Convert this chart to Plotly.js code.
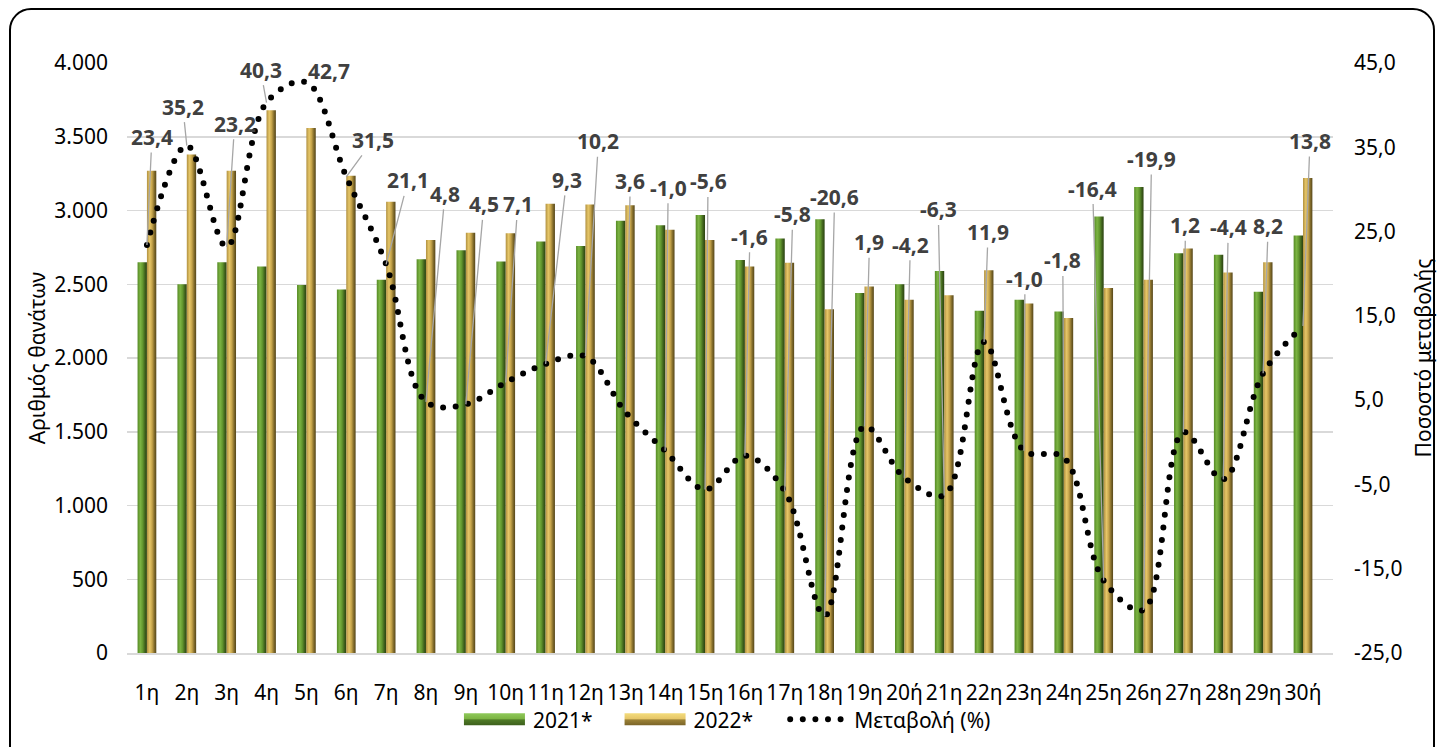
<!DOCTYPE html>
<html>
<head>
<meta charset="utf-8">
<script src="https://cdn.plot.ly/plotly-3.0.1.min.js"></script>
<style>
  html, body { margin: 0; padding: 0; background: #fff; overflow: hidden; }
  #chart { width: 1438px; height: 747px; }
  #frame { position: absolute; left: 9px; top: 8px; width: 1426px; height: 770px;
           border: 2px solid #000; border-radius: 22px; pointer-events: none; box-sizing: border-box; }
  .js-line { stroke-linecap: round !important; stroke-dasharray: 0 12.6 !important; }
</style>
</head>
<body>
<div id="chart"></div>
<div id="frame"></div>
<script>
// ---- data ----
const weeks = ['1η','2η','3η','4η','5η','6η','7η','8η','9η','10η','11η','12η','13η','14η','15η',
               '16η','17η','18η','19η','20ή','21η','22η','23η','24η','25η','26η','27η','28η','29η','30ή'];
const deaths2021 = [2650,2500,2650,2620,2495,2465,2530,2670,2730,2655,2790,2760,2930,2900,2970,
                    2665,2810,2940,2440,2500,2590,2320,2395,2315,2960,3160,2710,2700,2450,2830];
const deaths2022 = [3270,3380,3270,3680,3560,3235,3060,2800,2850,2845,3045,3040,3035,2870,2800,
                    2620,2645,2330,2485,2395,2425,2595,2370,2272,2475,2530,2742,2580,2650,3220];
const changePct = [23.4,35.2,23.2,40.3,42.7,31.5,21.1,4.8,4.5,7.1,9.3,10.2,3.6,-1.0,-5.6,
                   -1.6,-5.8,-20.6,1.9,-4.2,-6.3,11.9,-1.0,-1.8,-16.4,-19.9,1.2,-4.4,8.2,13.8];
const pctTicks = [-25, -15, -5, 5, 15, 25, 35, 45];
const pctTickLabels = ['-25,0', '-15,0', '-5,0', '5,0', '15,0', '25,0', '35,0', '45,0'];

// label placement offsets in pixels (layout only)
const labelDX = [5,-4,8,-6,23,27,22,19,18,12,21,13,5,3,3,5,8,10,5,6,-6,4,1,-1,-11,8,2,5,5,7];
const labelDY = [-108,-39,-123,-33,-11,-37,-84,-208,-200,-178,-184,-215,-231,-263,-308,
                 -219,-277,-419,-184,-233,-286,-110,-172,-197,-392,-451,-207,-252,-147,-185];

const FONT = 'Noto Sans, Open Sans, DejaVu Sans, sans-serif';
const FS = 21;

const traces = [
  { type: 'bar', name: '2021*', x: weeks, y: deaths2021, yaxis: 'y',
    marker: { color: '#5f8f2c', line: { width: 0 } }, hoverinfo: 'x+y' },
  { type: 'bar', name: '2022*', x: weeks, y: deaths2022, yaxis: 'y',
    marker: { color: '#c6a347', line: { width: 0 } }, hoverinfo: 'x+y' },
  { type: 'scatter', mode: 'lines', name: 'Μεταβολή (%)', x: weeks, y: changePct, yaxis: 'y2',
    line: { color: '#000', width: 6, shape: 'spline', smoothing: 1, dash: 'dot' }, hoverinfo: 'x+y' }
];

const annotations = changePct.map((v, i) => ({
  x: weeks[i], y: v, xref: 'x', yref: 'y2',
  text: v.toFixed(1).replace('.', ','),
  showarrow: true, arrowhead: 0, arrowwidth: 1.3, arrowcolor: '#a6a6a6', standoff: 0,
  ax: labelDX[i], ay: labelDY[i],
  font: { family: FONT, size: FS, color: '#404040', weight: 'bold' }
}));

const layout = {
  width: 1438, height: 747,
  margin: { l: 127, r: 105, t: 63, b: 94, autoexpand: false },
  paper_bgcolor: '#fff', plot_bgcolor: '#fff',
  separators: ',.',
  font: { family: FONT, size: FS, color: '#000' },
  barmode: 'group', bargap: 0.53, bargroupgap: 0,
  showlegend: true,
  legend: { orientation: 'h', x: 0.257, xanchor: 'left', y: -0.113, yanchor: 'middle',
            bgcolor: 'rgba(0,0,0,0)',
            font: { family: FONT, size: FS, color: '#000' }, itemwidth: 86, traceorder: 'normal' },
  xaxis: { type: 'category', showgrid: false, showline: true, linecolor: '#d9d9d9', linewidth: 2,
           ticks: '', ticklabelstandoff: 20, tickfont: { family: FONT, size: FS }, fixedrange: true,
           automargin: false },
  yaxis: { range: [0, 4000], dtick: 500, tickformat: ',', showgrid: true, gridcolor: '#d9d9d9', gridwidth: 1.5,
           zeroline: false, showline: false, ticks: '', ticklabelstandoff: 18, automargin: false,
           tickfont: { family: FONT, size: FS },
           title: { text: 'Αριθμός θανάτων', font: { family: FONT, size: FS }, standoff: 2 } },
  yaxis2: { range: [-25, 45], tickmode: 'array', tickvals: pctTicks, ticktext: pctTickLabels,
            overlaying: 'y', side: 'right', automargin: false,
            showgrid: false, zeroline: false, showline: false, ticks: '', ticklabelstandoff: 20,
            tickfont: { family: FONT, size: FS },
            title: { text: 'Ποσοστό μεταβολής', font: { family: FONT, size: FS }, standoff: 14 } },
  annotations: annotations
};

function decorate(gd) {
  const svg = gd.querySelector('svg.main-svg');
  const ns = 'http://www.w3.org/2000/svg';
  let defs = svg.querySelector('defs');
  if (!defs) { defs = document.createElementNS(ns, 'defs'); svg.insertBefore(defs, svg.firstChild); }
  const grads = {
    gGreen: [['0%', '#568a25'], ['30%', '#7cb443'], ['55%', '#62972e'], ['80%', '#3f611c'], ['100%', '#2b4212']],
    gGold:  [['0%', '#b09040'], ['30%', '#e6c668'], ['55%', '#c6a44a'], ['80%', '#806a2a'], ['100%', '#55461a']],
    gGreenL: [['0%', '#8fc95a'], ['45%', '#7cb443'], ['55%', '#4e7a26'], ['100%', '#3d5f1c']],
    gGoldL:  [['0%', '#f3dc7c'], ['45%', '#e6c668'], ['55%', '#9c8236'], ['100%', '#7a6428']]
  };
  Object.keys(grads).forEach(id => {
    const lg = document.createElementNS(ns, 'linearGradient');
    lg.setAttribute('id', id);
    const vertical = id.endsWith('L');
    lg.setAttribute('x1', '0'); lg.setAttribute('x2', vertical ? '0' : '1');
    lg.setAttribute('y1', '0'); lg.setAttribute('y2', vertical ? '1' : '0');
    grads[id].forEach(([o, c]) => {
      const s = document.createElementNS(ns, 'stop');
      s.setAttribute('offset', o); s.setAttribute('stop-color', c); lg.appendChild(s);
    });
    defs.appendChild(lg);
  });
  const ids = ['gGreen', 'gGold'];
  gd.querySelectorAll('.barlayer .trace').forEach((t, k) => {
    t.querySelectorAll('path').forEach(p => { p.style.fill = 'url(#' + ids[k] + ')'; });
  });
  const lids = ['gGreenL', 'gGoldL'];
  gd.querySelectorAll('.legend .traces').forEach((t, k) => {
    const txt = t.querySelector('text.legendtext');
    const tx = txt ? parseFloat(txt.getAttribute('x')) : 96;
    if (k < 2) {
      t.querySelectorAll('.legendpoints path').forEach(p => {
        p.setAttribute('transform', '');
        p.setAttribute('d', 'M' + (tx - 69) + ',-6H' + (tx - 8) + 'V6H' + (tx - 69) + 'Z');
        p.style.fill = 'url(#' + lids[k] + ')';
        p.style.stroke = 'none';
      });
    } else {
      t.querySelectorAll('.legendlines path').forEach(p => {
        p.setAttribute('transform', '');
        p.setAttribute('d', 'M' + (tx - 64) + ',0h57');
      });
    }
  });
}

Plotly.newPlot('chart', traces, layout, { displayModeBar: false, staticPlot: true }).then(decorate);
</script>
</body>
</html>
